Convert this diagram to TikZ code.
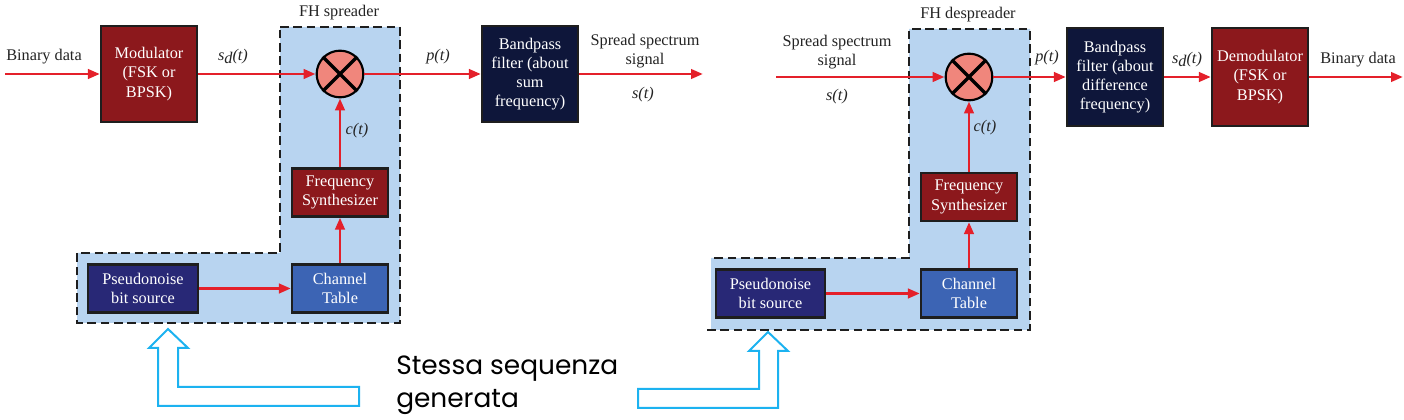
\documentclass[tikz,border=0pt]{standalone}
\usepackage{fontspec}
\setmainfont{Liberation Serif}
\newfontfamily\popfont{Poppins}
\usetikzlibrary{arrows.meta}
\definecolor{sigred}{RGB}{228,32,42}
\definecolor{darkred}{RGB}{140,24,28}
\definecolor{navy}{RGB}{14,22,58}
\definecolor{pnblue}{RGB}{40,40,118}
\definecolor{ctblue}{RGB}{60,100,180}
\definecolor{regionblue}{RGB}{184,212,240}
\definecolor{mixfill}{RGB}{240,134,124}
\definecolor{cyanarrow}{RGB}{28,178,240}
\definecolor{boxline}{RGB}{30,30,30}
\definecolor{labelgray}{RGB}{35,35,35}
\begin{document}
\begin{tikzpicture}[x=0.75pt,y=-0.75pt,
  blk/.style={draw=boxline, line width=1.6pt, text=white, align=center,
    font=\fontsize{12.2}{14.4}\selectfont, inner sep=0pt},
  bigblk/.style={blk, minimum width=72pt, minimum height=71.5pt},
  smallblk/.style={blk, minimum width=72pt, minimum height=36pt},
  pnblk/.style={blk, fill=pnblue, minimum width=82pt, minimum height=36pt},
  sig/.style={draw=sigred, line width=2.2pt, -{Triangle[length=9pt,width=7pt]}},
  lbl/.style={text=labelgray, font=\fontsize{12.2}{14.4}\selectfont, inner sep=0pt, align=center},
  ital/.style={lbl, font=\fontsize{12.2}{14.4}\selectfont\itshape},
  mixer/.style={circle, draw=black, line width=1.6pt, fill=mixfill, minimum size=35pt, inner sep=0pt},
  cross/.style={draw=black, line width=2.4pt},
  regionfill/.style={fill=regionblue},
  regionedge/.style={draw=boxline, line width=2.2pt, dash pattern=on 6.5pt off 3.5pt},
  hollow/.style={draw=cyanarrow, line width=1.5pt, line join=miter}
]
\useasboundingbox (0,0) rectangle (1404,420);

% ---------------- left: FH spreader ----------------
\fill[regionfill] (280,27) -- (400,27) -- (400,323) -- (77,323) -- (77,253) -- (280,253) -- cycle;
\draw[regionedge] (280,27) -- (400,27) -- (400,323) -- (77,323) -- (77,253) -- (280,253) -- cycle;

\node[bigblk, fill=darkred] (mod) at (149,74) {Modulator\\(FSK or\\BPSK)};
\node[mixer] (mul1) at (340,74) {};
\draw[cross] (mul1.north east) -- (mul1.south west) (mul1.north west) -- (mul1.south east);
\node[bigblk, fill=navy] (bp1) at (530,74) {Bandpass\\filter (about\\sum\\frequency)};
\node[smallblk, fill=darkred] (fs1) at (340,192.5) {Frequency\\Synthesizer};
\node[smallblk, fill=ctblue] (ct1) at (340,288.5) {Channel\\Table};
\node[pnblk] (pn1) at (143,288.5) {Pseudonoise\\bit source};

\coordinate (in1) at (5,74);
\coordinate (out1) at (703,74);

\node[lbl] (fhs) at (339,13) {FH spreader};
\node[lbl] (bd1) at (44,57) {Binary data};
\node[ital] (sd1) at (233,57) {s\raisebox{-0.4ex}{d}(t)};
\node[ital] (pt1) at (438,57) {p(t)};
\node[lbl] (sss1) at (645,51) {Spread spectrum\\signal};
\node[ital] (st1) at (643,95) {s(t)};
\node[ital] (ct1l) at (357,131) {c(t)};

\draw[sig] (in1) -- (mod.west);
\draw[sig] (mod.east) -- (mul1.west);
\draw[sig] (mul1.east) -- (bp1.west);
\draw[sig] (bp1.east) -- (out1);
\draw[sig] (fs1.north) -- (mul1.south);
\draw[sig] (ct1.north) -- (fs1.south);
\draw[sig] (pn1.east) -- (ct1.west);

% ---------------- right: FH despreader ----------------
\fill[regionfill] (711,258) -- (909,258) -- (909,29) -- (1030,29) -- (1030,330) -- (711,330) -- cycle;
\draw[regionedge] (707,330) -- (1030,330) -- (1030,29) -- (909,29) -- (909,258) -- (711,258);

\node[mixer] (mul2) at (969,77) {};
\draw[cross] (mul2.north east) -- (mul2.south west) (mul2.north west) -- (mul2.south east);
\node[bigblk, fill=navy, minimum height=73pt] (bp2) at (1115,77) {Bandpass\\filter (about\\difference\\frequency)};
\node[bigblk, fill=darkred, minimum height=73pt] (dem) at (1260,77) {Demodulator\\(FSK or\\BPSK)};
\node[smallblk, fill=darkred] (fs2) at (969,197) {Frequency\\Synthesizer};
\node[smallblk, fill=ctblue] (ct2) at (969,293.5) {Channel\\Table};
\node[pnblk] (pn2) at (770.5,293.5) {Pseudonoise\\bit source};

\coordinate (in2) at (776,77);
\coordinate (out2) at (1403,77);

\node[lbl] (fhd) at (968,15) {FH despreader};
\node[lbl] (sss2) at (837,52) {Spread spectrum\\signal};
\node[ital] (st2) at (837,97) {s(t)};
\node[ital] (ct2l) at (985,128) {c(t)};
\node[ital] (pt2) at (1047,58) {p(t)};
\node[ital] (sd2) at (1187,60) {s\raisebox{-0.4ex}{d}(t)};
\node[lbl] (bd2) at (1358,60) {Binary data};

\draw[sig] (in2) -- (mul2.west);
\draw[sig] (mul2.east) -- (bp2.west);
\draw[sig] (bp2.east) -- (dem.west);
\draw[sig] (dem.east) -- (out2);
\draw[sig] (fs2.north) -- (mul2.south);
\draw[sig] (ct2.north) -- (fs2.south);
\draw[sig] (pn2.east) -- (ct2.west);

% ---------------- hollow arrows and note ----------------
\draw[hollow] (168,329) -- (188,348) -- (178,348) -- (178,387) -- (359,387) -- (359,406)
  -- (158,406) -- (158,348) -- (149,348) -- cycle;
\draw[hollow] (768,332) -- (788,351) -- (778,351) -- (778,408) -- (638,408) -- (638,389)
  -- (759,389) -- (759,351) -- (749,351) -- cycle;

\node[anchor=north west, inner sep=0pt, align=left, text=black,
  font=\popfont\fontsize{19.8}{24.75}\selectfont] (note) at (396,356) {Stessa sequenza\\generata};
\end{tikzpicture}
\end{document}
